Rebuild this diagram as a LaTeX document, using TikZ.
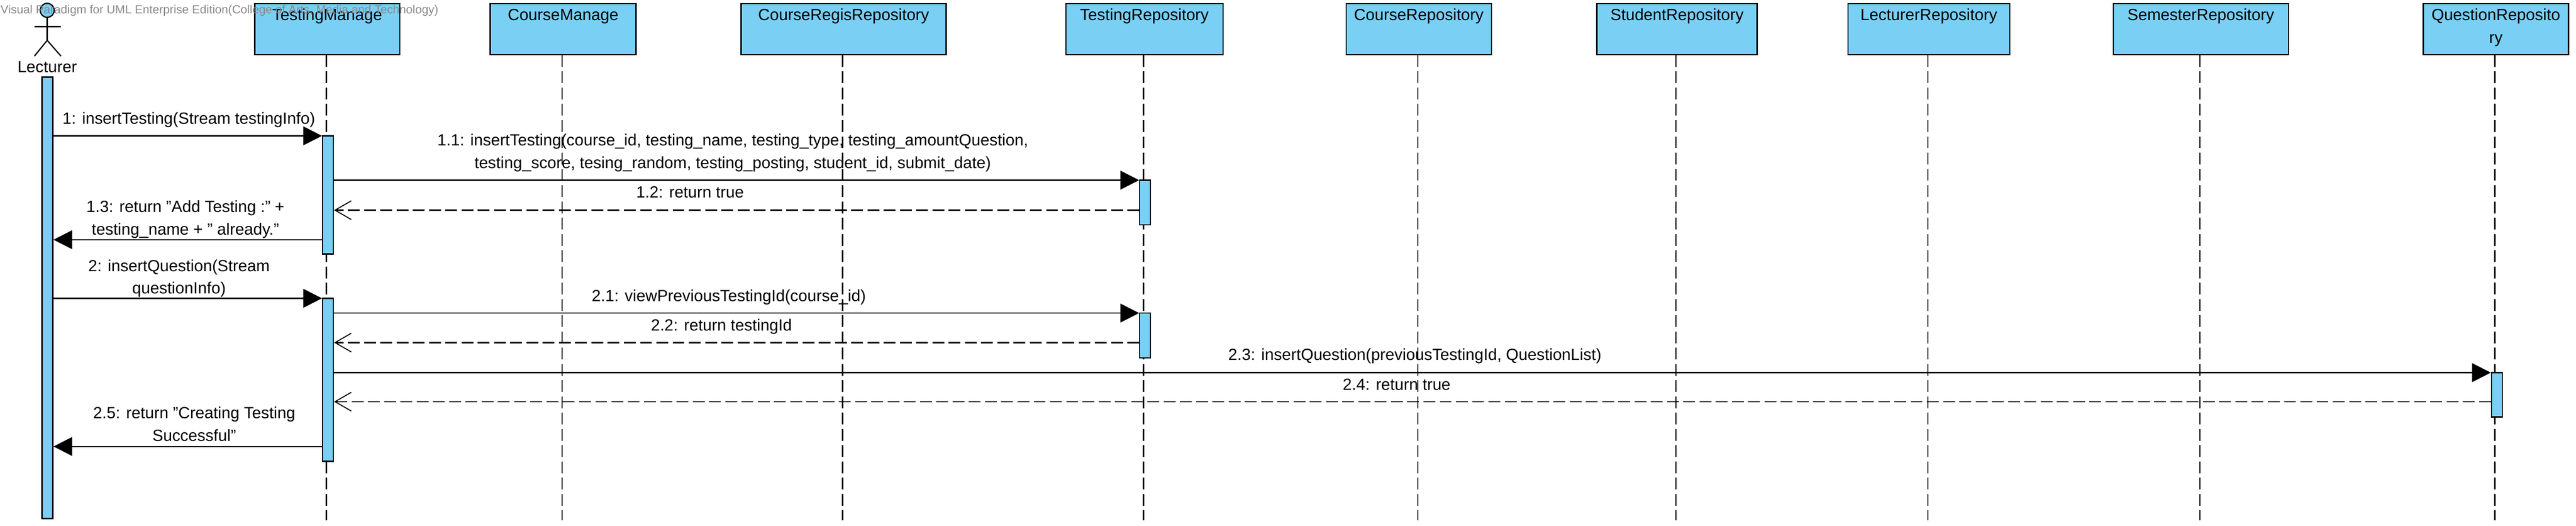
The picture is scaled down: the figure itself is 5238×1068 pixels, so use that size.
\documentclass[tikz,border=0pt]{standalone}
\usepackage{fontspec}
\usepackage{xcolor}
\usetikzlibrary{arrows.meta}
\setmainfont{Liberation Sans}
\definecolor{vpblue}{RGB}{122,207,245}
\definecolor{vpmark}{RGB}{136,136,136}

\begin{document}
\begin{tikzpicture}[x=0.01cm,y=-0.01cm,>={Triangle[length=0.38cm,width=0.38cm]},line width=0.025cm]
\tikzstyle{lifebox}=[rectangle,draw=black,fill=vpblue,minimum height=1.035cm,inner ysep=0pt,inner xsep=0pt,text height=0.3375cm,text depth=0.6975cm,font=\fontsize{9.36}{13}\selectfont]
\tikzstyle{act}=[rectangle,draw=black,fill=vpblue,minimum width=0.22cm,inner sep=0pt]
\tikzstyle{lifeline}=[dash pattern=on 0.24cm off 0.09cm]
\tikzstyle{msg}=[->]
\tikzstyle{ret}=[-{Straight Barb[length=0.33cm,width=0.38cm,line width=0.02cm]},dash pattern=on 0.24cm off 0.09cm]
\tikzstyle{msgtext}=[anchor=base,inner sep=0pt,align=center,font=\fontsize{9.36}{13}\selectfont]
\useasboundingbox (0,0) rectangle (5238,1068);

% lifeline heads
\node[lifebox,minimum width=2.945cm] (tm) at (665.5,59) {TestingManage};
\node[lifebox,minimum width=2.965cm] (cm) at (1145,59) {CourseManage};
\node[lifebox,minimum width=4.165cm] (crr) at (1715.5,59) {CourseRegisRepository};
\node[lifebox,minimum width=3.195cm] (tr) at (2327,59) {TestingRepository};
\node[lifebox,minimum width=2.955cm] (cr) at (2885,59) {CourseRepository};
\node[lifebox,minimum width=3.255cm] (sr) at (3410,59) {StudentRepository};
\node[lifebox,minimum width=3.29cm] (lr) at (3922,59) {LecturerRepository};
\node[lifebox,minimum width=3.56cm] (smr) at (4475,59) {SemesterRepository};
\node[lifebox,minimum width=2.95cm,align=center,text height=0.7975cm,text depth=0.2375cm] (qr) at (5075,59) {QuestionReposito\\ry};

% actor
\node[circle,draw=black,fill=vpblue,minimum size=0.285cm,inner sep=0pt] (head) at (96,21) {};
\coordinate (hip) at (96,82);
\coordinate (armL) at (70,54);
\coordinate (armR) at (124,54);
\coordinate (footL) at (70,114);
\coordinate (footR) at (124,114);
\draw (head.south) -- (hip);
\draw (armL) -- (armR);
\draw (footL) -- (hip) -- (footR);
\node[msgtext] (lecturer) at (96,147) {Lecturer};

% lifelines
\coordinate (lifeEnd) at (0,1057);
\draw[lifeline] ([xshift=-0.02cm]tm.south) -- ([xshift=-0.02cm]tm.south |- lifeEnd);
\draw[lifeline] ([xshift=-0.02cm]cm.south) -- ([xshift=-0.02cm]cm.south |- lifeEnd);
\draw[lifeline] ([xshift=-0.02cm]crr.south) -- ([xshift=-0.02cm]crr.south |- lifeEnd);
\draw[lifeline] ([xshift=-0.02cm]tr.south) -- ([xshift=-0.02cm]tr.south |- lifeEnd);
\draw[lifeline] ([xshift=-0.02cm]cr.south) -- ([xshift=-0.02cm]cr.south |- lifeEnd);
\draw[lifeline] ([xshift=-0.02cm]sr.south) -- ([xshift=-0.02cm]sr.south |- lifeEnd);
\draw[lifeline] ([xshift=-0.02cm]lr.south) -- ([xshift=-0.02cm]lr.south |- lifeEnd);
\draw[lifeline] ([xshift=-0.02cm]smr.south) -- ([xshift=-0.02cm]smr.south |- lifeEnd);
\draw[lifeline] ([xshift=-0.02cm]qr.south) -- ([xshift=-0.02cm]qr.south |- lifeEnd);

% activations
\node[act,minimum height=8.96cm] (la) at (96.5,605) {};
\node[act,minimum height=2.40cm] (ta1) at (667,396) {};
\node[act,minimum height=3.31cm] (ta2) at (667,771.5) {};
\node[act,minimum height=0.91cm] (ra1) at (2328.5,411.5) {};
\node[act,minimum height=0.91cm] (ra2) at (2328.5,681.5) {};
\node[act,minimum height=0.90cm] (qa) at (5077,802) {};

% message rows
\coordinate (row1) at (0,276);
\coordinate (row11) at (0,366);
\coordinate (row12) at (0,427);
\coordinate (row13) at (0,487);
\coordinate (row2) at (0,606);
\coordinate (row21) at (0,636);
\coordinate (row22) at (0,696);
\coordinate (row23) at (0,757);
\coordinate (row24) at (0,816);
\coordinate (row25) at (0,907);

\draw[msg] (la.east |- row1) -- (ta1.west |- row1);
\draw[msg] (ta1.east |- row11) -- (ra1.west |- row11);
\draw[ret] (ra1.west |- row12) -- (ta1.east |- row12);
\draw[msg] (ta1.west |- row13) -- (la.east |- row13);
\draw[msg] (la.east |- row2) -- (ta2.west |- row2);
\draw[msg] (ta2.east |- row21) -- (ra2.west |- row21);
\draw[ret] (ra2.west |- row22) -- (ta2.east |- row22);
\draw[msg] (ta2.east |- row23) -- (qa.west |- row23);
\draw[ret] (qa.west |- row24) -- (ta2.east |- row24);
\draw[msg] (ta2.west |- row25) -- (la.east |- row25);

% message labels
\node[msgtext] (l1) at (384,252) {1: insertTesting(Stream testingInfo)};
\node[msgtext] (l11) at (1490,342) {1.1: insertTesting(course\_id, testing\_name, testing\_type, testing\_amountQuestion,\\testing\_score, tesing\_random, testing\_posting, student\_id, submit\_date)};
\node[msgtext] (l12) at (1403,402) {1.2: return true};
\node[msgtext] (l13) at (377,477) {1.3: return "Add Testing :" +\\testing\_name + " already."};
\node[msgtext] (l2) at (364,597) {2: insertQuestion(Stream\\questionInfo)};
\node[msgtext] (l21) at (1482,612) {2.1: viewPreviousTestingId(course\_id)};
\node[msgtext] (l22) at (1467,672) {2.2: return testingId};
\node[msgtext] (l23) at (2877,732) {2.3: insertQuestion(previousTestingId, QuestionList)};
\node[msgtext] (l24) at (2840,792) {2.4: return true};
\node[msgtext] (l25) at (395,896) {2.5: return "Creating Testing\\Successful"};

\node[anchor=west,inner sep=0pt,text=vpmark,font=\fontsize{6.83}{8}\selectfont] (mark) at (0,22) {Visual Paradigm for UML Enterprise Edition(College of Arts, Media and Technology)};
\end{tikzpicture}
\end{document}
